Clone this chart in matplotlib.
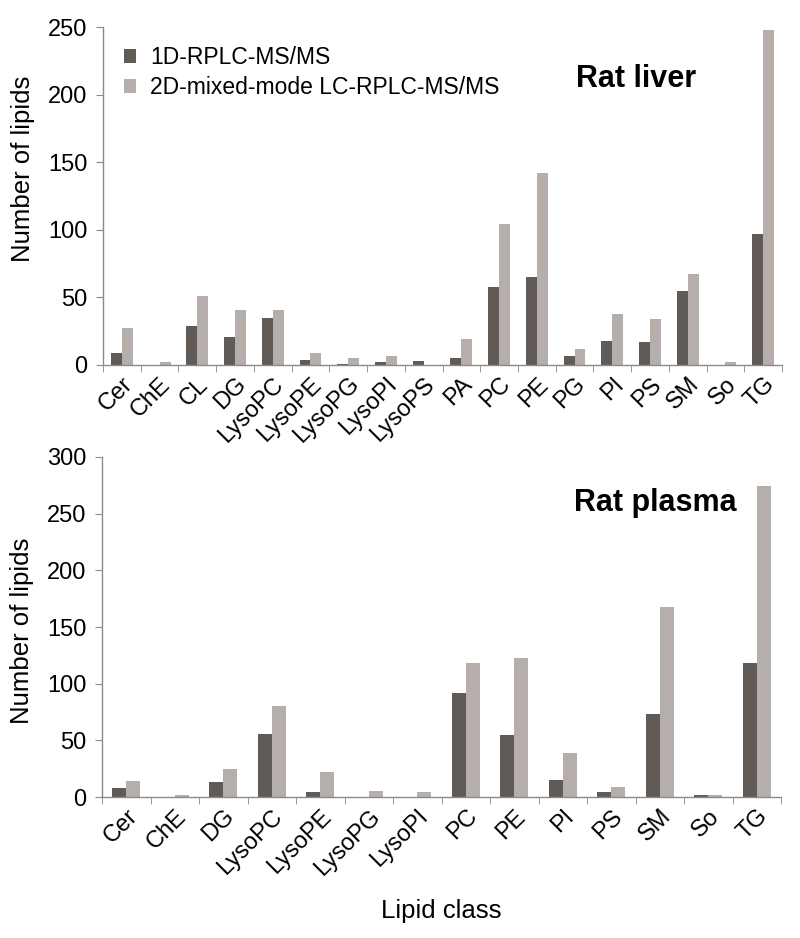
import numpy as np
import matplotlib
matplotlib.use("Agg")
import matplotlib.pyplot as plt

plt.rcParams['font.family'] = ['Liberation Sans', 'DejaVu Sans']

# Rat liver
liver_classes = ['Cer', 'ChE', 'CL', 'DG', 'LysoPC', 'LysoPE', 'LysoPG', 'LysoPI',
                 'LysoPS', 'PA', 'PC', 'PE', 'PG', 'PI', 'PS', 'SM', 'So', 'TG']
liver_1d = [9, 0, 29, 21, 35, 4, 1, 2, 3, 5, 58, 65, 7, 18, 17, 55, 0, 97]
liver_2d = [27, 2, 51, 41, 41, 9, 5, 7, 0, 19, 104, 142, 12, 38, 34, 67, 2, 248]

# Rat plasma
plasma_classes = ['Cer', 'ChE', 'DG', 'LysoPC', 'LysoPE', 'LysoPG', 'LysoPI',
                  'PC', 'PE', 'PI', 'PS', 'SM', 'So', 'TG']
plasma_1d = [8, 0, 13, 56, 4, 0, 0, 92, 55, 15, 4, 73, 2, 118]
plasma_2d = [14, 2, 25, 80, 22, 5, 4, 118, 123, 39, 9, 168, 1.5, 274]

series_names = ['1D-RPLC-MS/MS', '2D-mixed-mode LC-RPLC-MS/MS']
dark = '#615b58'
light = '#b5aeaa'
axis_col = '#8a8a8a'

fig = plt.figure(figsize=(8, 9.38), dpi=100)
ax1 = fig.add_axes([0.12875, 0.6109, 0.84875, 0.3603])
ax2 = fig.add_axes([0.1275, 0.1503, 0.84875, 0.3625])


def draw(ax, classes, v1, v2, ymax, title, title_xy, ylab_y):
    x = np.arange(len(classes))
    w = 0.29
    ax.bar(x - w / 2, v1, width=w, color=dark, label=series_names[0])
    ax.bar(x + w / 2, v2, width=w, color=light, label=series_names[1])
    ax.set_xlim(-0.5, len(classes) - 0.5)
    ax.set_ylim(0, ymax)
    ax.set_yticks(np.arange(0, ymax + 1, 50))
    ax.set_xticks(x)
    ax.set_xticklabels(classes, rotation=45, ha='right', rotation_mode='anchor')
    ax.set_xticks(np.arange(-0.5, len(classes)), minor=True)
    ax.tick_params(axis='x', which='major', length=0, pad=6, labelsize=17)
    ax.tick_params(axis='x', which='minor', length=5, color=axis_col, direction='out')
    ax.tick_params(axis='y', length=5, color=axis_col, labelsize=17, pad=6)
    for s in ['top', 'right']:
        ax.spines[s].set_visible(False)
    for s in ['left', 'bottom']:
        ax.spines[s].set_color(axis_col)
        ax.spines[s].set_linewidth(1)
    ax.set_ylabel('Number of lipids', fontsize=18.5)
    ax.yaxis.set_label_coords(-0.1, ylab_y)
    ax.text(title_xy[0], title_xy[1], title, transform=ax.transAxes,
            fontsize=22, fontweight='bold', ha='center', va='center')


draw(ax1, liver_classes, liver_1d, liver_2d, 250, 'Rat liver', (0.785, 0.845), 0.58)
draw(ax2, plasma_classes, plasma_1d, plasma_2d, 300, 'Rat plasma', (0.815, 0.865), 0.49)

ax1.legend(loc='upper left', bbox_to_anchor=(0.0, 1.005), frameon=False,
           fontsize=16.5, handlelength=0.55, handleheight=0.55,
           handletextpad=0.6, labelspacing=0.3)
ax2.set_xlabel('Lipid class', fontsize=18.5, labelpad=14)

fig.savefig('out.png', dpi=100)
